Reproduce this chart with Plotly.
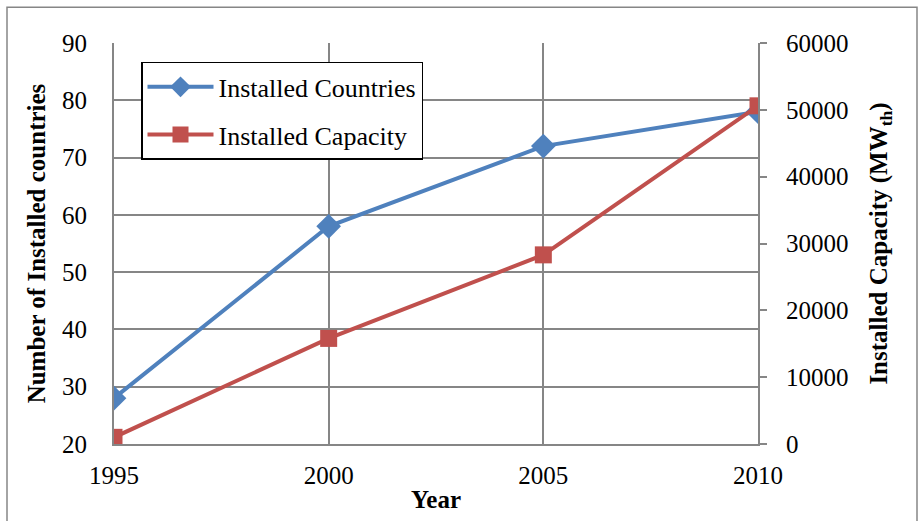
import plotly.graph_objects as go

# Data
years = [1995, 2000, 2005, 2010]
installed_countries = [28, 58, 72, 78]
installed_capacity = [1000, 15800, 28300, 50600]

x_ticks = [1995, 2000, 2005, 2010]
left_ticks = [20, 30, 40, 50, 60, 70, 80, 90]
right_ticks = [0, 10000, 20000, 30000, 40000, 50000, 60000]

BLUE = "#4F81BD"
RED = "#C0504D"
GRID = "#868686"
FONT = "Liberation Serif"
FS = 25

fig = go.Figure()

fig.add_trace(go.Scatter(
    x=years, y=installed_countries, name="Installed Countries",
    mode="lines+markers", legendgroup="a",
    line=dict(color=BLUE, width=4),
    marker=dict(symbol="diamond", size=19, color=BLUE),
    yaxis="y",
))
fig.add_trace(go.Scatter(
    x=years, y=installed_capacity, name="Installed Capacity",
    mode="lines+markers", legendgroup="b",
    line=dict(color=RED, width=4),
    marker=dict(symbol="square", size=17, color=RED),
    yaxis="y2",
))

W, H = 920, 521
L, R, T, B = 114, 162, 43, 75
pw, ph = W - L - R, H - T - B

def px_x(p):
    return (p - L) / pw

def px_y(p):
    return (H - B - p) / ph

fig.update_layout(
    width=W, height=H,
    margin=dict(l=L, r=R, t=T, b=B),
    paper_bgcolor="white", plot_bgcolor="white",
    font=dict(family=FONT, size=FS, color="black"),
    showlegend=True,
    legend=dict(
        x=px_x(141), y=px_y(62), xanchor="left", yanchor="top",
        bgcolor="white", bordercolor="black", borderwidth=1.5,
        font=dict(family=FONT, size=26, color="black"),
        traceorder="grouped", tracegroupgap=11, itemwidth=66,
    ),
    xaxis=dict(
        range=[1995, 2010], tickvals=x_ticks, ticktext=[str(t) for t in x_ticks],
        showgrid=True, gridcolor=GRID, gridwidth=2,
        showline=True, linecolor=GRID, linewidth=2,
        ticks="", zeroline=False, ticklabelstandoff=8,
        title=dict(text="<b>Year</b>", standoff=2, font=dict(size=FS)),
        tickfont=dict(size=FS),
    ),
    yaxis=dict(
        range=[20, 90], tickvals=left_ticks,
        showgrid=True, gridcolor=GRID, gridwidth=2,
        showline=True, linecolor=GRID, linewidth=2,
        ticks="", zeroline=False, ticklabelstandoff=20,
        title=dict(text="<b>Number of Installed countries</b>", standoff=9, font=dict(size=FS)),
        tickfont=dict(size=FS),
    ),
    yaxis2=dict(
        range=[0, 60000], tickvals=right_ticks,
        ticktext=[str(t) for t in right_ticks],
        overlaying="y", side="right",
        showgrid=False, showline=True, linecolor=GRID, linewidth=2,
        ticks="outside", ticklen=7, tickcolor=GRID, tickwidth=2,
        zeroline=False, ticklabelstandoff=14,
        title=dict(text="<b>Installed Capacity (MW<sub>th</sub>)</b>", standoff=22, font=dict(size=FS)),
        tickfont=dict(size=FS),
    ),
    shapes=[
        # outer frame around the whole chart
        dict(type="rect", xref="paper", yref="paper",
             x0=px_x(7), x1=px_x(917), y0=px_y(540), y1=px_y(7),
             line=dict(color=GRID, width=1.5), fillcolor="rgba(0,0,0,0)",
             layer="below"),
    ],
)

fig.write_html("out.html")
